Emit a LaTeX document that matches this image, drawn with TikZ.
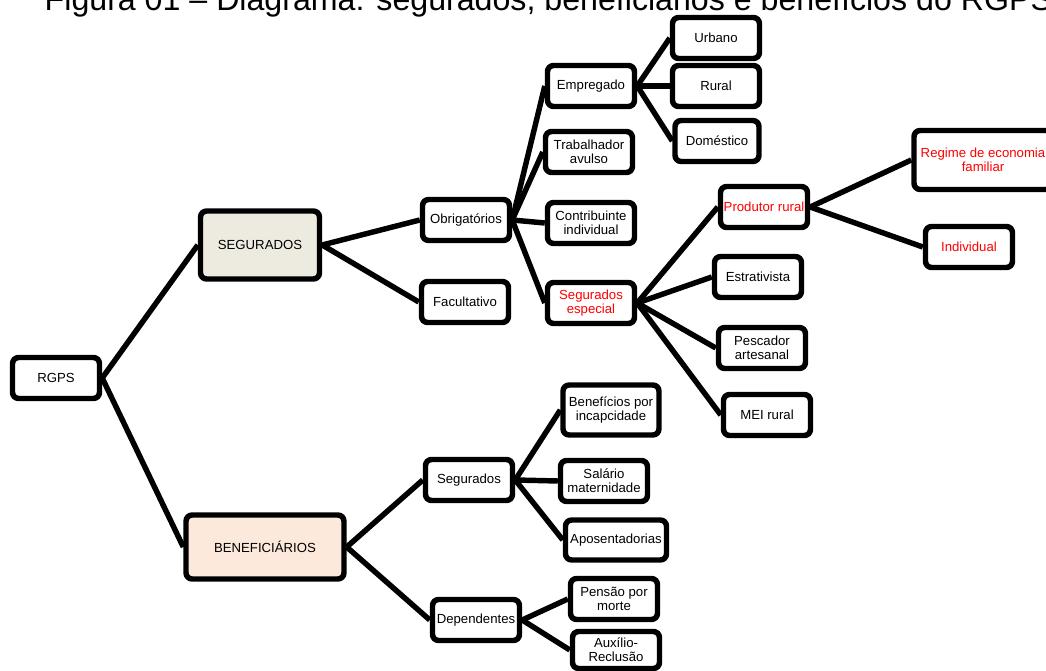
\documentclass[tikz,border=0pt]{standalone}
\usepackage{fontspec}
\setmainfont{Liberation Sans}

\begin{document}
\begin{tikzpicture}[x=0.02cm, y=-0.02cm, line width=3.1pt,
    caixa/.style={draw, fill=white, rounded corners=3.5pt, align=center,
      inner sep=1pt, font=\fontsize{7.5}{8}\selectfont,
      minimum width=1.74cm, minimum height=0.82cm},
    verm/.style={text=red}]
    \useasboundingbox (0,0) rectangle (1046,671);

    % titulo
    \node[anchor=base west, inner sep=0pt, font=\fontsize{18.3}{20}\selectfont]
         (titulo) at (42,11) {Figura 01 – Diagrama: segurados, beneficiários e benefícios do RGPS};

    % raiz
    \node[caixa] (rgps) at (56,378) {RGPS};
    \node[caixa, fill={rgb,255:red,237;green,235;blue,224},
          minimum width=2.38cm, minimum height=1.36cm] (seg) at (260,245) {SEGURADOS};
    \node[caixa, fill={rgb,255:red,252;green,233;blue,219},
          minimum width=3.16cm, minimum height=1.28cm] (ben) at (265,547) {BENEFICIÁRIOS};

    % segurados
    \node[caixa] (obr) at (466,220) {Obrigatórios};
    \node[caixa] (fac) at (465,302) {Facultativo};
    \node[caixa] (emp) at (591,86)  {Empregado};
    \node[caixa] (tra) at (589,152) {Trabalhador\\avulso};
    \node[caixa] (con) at (591,223) {Contribuinte\\individual};
    \node[caixa, verm] (esp) at (591,303) {Segurados\\especial};
    \node[caixa] (urb) at (716,38)  {Urbano};
    \node[caixa] (rur) at (716,86)  {Rural};
    \node[caixa, minimum width=1.68cm] (dom) at (717,141) {Doméstico};
    \node[caixa, verm] (pro) at (764,207) {Produtor rural};
    \node[caixa] (est) at (758,277) {Estrativista};
    \node[caixa] (pes) at (762,348) {Pescador\\artesanal};
    \node[caixa] (mei) at (767,415) {MEI rural};
    \node[caixa, verm, minimum width=2.76cm, minimum height=1.18cm] (reg) at (983,160) {Regime de economia\\familiar};
    \node[caixa, verm] (ind) at (969,247) {Individual};

    % beneficiarios
    \node[caixa] (segb) at (469,480) {Segurados};
    \node[caixa] (dep)  at (476,620) {Dependentes};
    \node[caixa, minimum width=1.92cm, minimum height=1cm] (inc) at (611,410) {Benefícios por\\incapcidade};
    \node[caixa] (sal) at (604,481) {Salário\\maternidade};
    \node[caixa, minimum width=2.02cm, minimum height=0.8cm] (apo) at (616,540) {Aposentadorias};
    \node[caixa] (pen) at (614,599) {Pensão por\\morte};
    \node[caixa, minimum height=0.74cm] (aux) at (616,650) {Auxílio-\\Reclusão};

    % ligacoes
    \draw (rgps.east) -- (seg.west);
    \draw (rgps.east) -- (ben.west);
    \draw (seg.east) -- (obr.west);
    \draw (seg.east) -- (fac.west);
    \foreach \f in {emp,tra,con,esp}
      \draw (obr.east) -- (\f.west);
    \foreach \f in {urb,rur,dom}
      \draw (emp.east) -- (\f.west);
    \foreach \f in {pro,est,pes,mei}
      \draw (esp.east) -- (\f.west);
    \draw (pro.east) -- (reg.west);
    \draw (pro.east) -- (ind.west);
    \draw (ben.east) -- (segb.west);
    \draw (ben.east) -- (dep.west);
    \foreach \f in {inc,sal,apo}
      \draw (segb.east) -- (\f.west);
    \draw (dep.east) -- (pen.west);
    \draw (dep.east) -- (aux.west);
  \end{tikzpicture}
\end{document}
